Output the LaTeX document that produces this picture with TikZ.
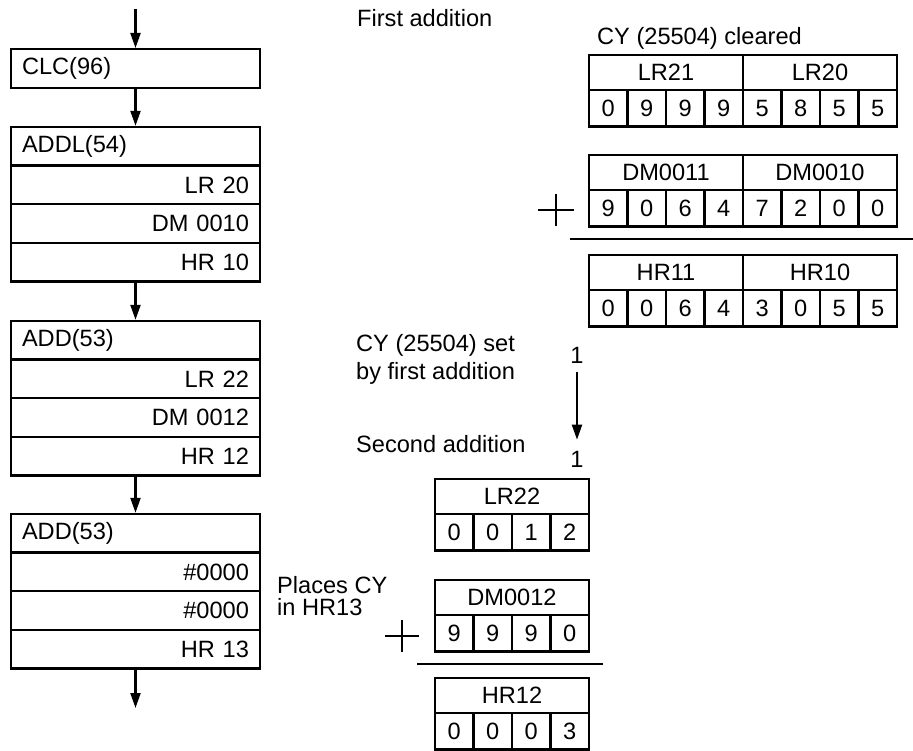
\documentclass[tikz,border=0pt]{standalone}
\usepackage{fontspec}
\setmainfont{Liberation Sans}
\usetikzlibrary{arrows.meta}
\begin{document}
\begin{tikzpicture}[x=1pt,y=-1pt,
  txt/.style={font=\fontsize{23.6}{27}\selectfont},
  lbl/.style={txt, inner sep=0pt, anchor=base west},
  row/.style={draw, line width=2.4pt, minimum height=38.6pt, inner xsep=11pt, inner ysep=0pt, text width=227pt, txt},
  rowl/.style={row, align=left},
  rowr/.style={row, align=right},
  hcell/.style={draw, line width=2.4pt, minimum width=154pt, minimum height=35pt, inner sep=0pt, txt},
  dcell/.style={draw, line width=2.4pt, minimum width=38.5pt, minimum height=36.5pt, inner sep=0pt, txt},
  arr/.style={line width=2.2pt, -{Triangle[length=15pt,width=10pt]}},
  plusline/.style={line width=1.6pt},
  sumline/.style={line width=2.2pt}]
\useasboundingbox (0,0) rectangle (913,751);

% ---------------- left column ----------------
\coordinate (start) at (135.5,9);
\node[rowl] (clc) at (135.5,68.5) {CLC(96)};

\node[rowl] (addl0) at (135.5,146.3) {ADDL(54)};
\node[rowr] (addl1) at (135.5,184.9) {LR 20};
\node[rowr] (addl2) at (135.5,223.5) {DM 0010};
\node[rowr] (addl3) at (135.5,262.1) {HR 10};

\node[rowl] (adda0) at (135.5,340.3) {ADD(53)};
\node[rowr] (adda1) at (135.5,378.9) {LR 22};
\node[rowr] (adda2) at (135.5,417.5) {DM 0012};
\node[rowr] (adda3) at (135.5,456.1) {HR 12};

\node[rowl] (addb0) at (135.5,533.3) {ADD(53)};
\node[rowr] (addb1) at (135.5,571.9) {\#0000};
\node[rowr] (addb2) at (135.5,610.5) {\#0000};
\node[rowr] (addb3) at (135.5,649.1) {HR 13};
\coordinate (finish) at (135.5,708);

\draw[arr] (start) -- (clc.north);
\draw[arr] (clc.south) -- (addl0.north);
\draw[arr] (addl3.south) -- (adda0.north);
\draw[arr] (adda3.south) -- (addb0.north);
\draw[arr] (addb3.south) -- (finish);

% ---------------- first addition ----------------
\node[lbl] (first) at (357,27) {First addition};
\node[lbl] (cleared) at (597,45) {CY (25504) cleared};

\node[hcell] (lr21) at (666,72.5) {LR21};
\node[hcell] (lr20) at (820,72.5) {LR20};
\foreach \d [count=\i from 0] in {0,9,9,9,5,8,5,5}
  \node[dcell] (a\i) at ({608.25+38.5*\i},108.25) {\d};

\node[hcell] (dm11) at (666,172.5) {DM0011};
\node[hcell] (dm10) at (820,172.5) {DM0010};
\foreach \d [count=\i from 0] in {9,0,6,4,7,2,0,0}
  \node[dcell] (b\i) at ({608.25+38.5*\i},208.25) {\d};

\draw[plusline] (538,210) -- (574,210) (556,194) -- (556,226);
\draw[sumline] (570,239) -- (913,239);

\node[hcell] (hr11) at (666,272.5) {HR11};
\node[hcell] (hr10) at (820,272.5) {HR10};
\foreach \d [count=\i from 0] in {0,0,6,4,3,0,5,5}
  \node[dcell] (c\i) at ({608.25+38.5*\i},308.25) {\d};

% ---------------- carry ----------------
\node[lbl] (cyset) at (356,352) {CY (25504) set};
\node[lbl] (byfirst) at (356,379) {by first addition};
\node[txt, inner sep=0pt] (one1) at (577,355) {1};
\node[txt, inner sep=0pt] (one2) at (577,459) {1};
\draw[arr] ([yshift=-9pt]one1.south) -- ([yshift=11pt]one2.north);
\node[lbl] (second) at (356,452) {Second addition};

% ---------------- second addition ----------------
\node[hcell] (lr22) at (512,496.5) {LR22};
\foreach \d [count=\i from 0] in {0,0,1,2}
  \node[dcell] (d\i) at ({454.25+38.5*\i},532.25) {\d};

\node[lbl] (places) at (277,593) {Places CY};
\node[lbl] (inhr) at (277,615) {in HR13};

\node[hcell] (dm12) at (512,597.5) {DM0012};
\foreach \d [count=\i from 0] in {9,9,9,0}
  \node[dcell] (e\i) at ({454.25+38.5*\i},633.25) {\d};

\draw[plusline] (385,636) -- (419,636) (402,620) -- (402,652);
\draw[sumline] (417,664) -- (603,664);

\node[hcell] (hr12) at (512,695.5) {HR12};
\foreach \d [count=\i from 0] in {0,0,0,3}
  \node[dcell] (f\i) at ({454.25+38.5*\i},731.25) {\d};
\end{tikzpicture}
\end{document}
